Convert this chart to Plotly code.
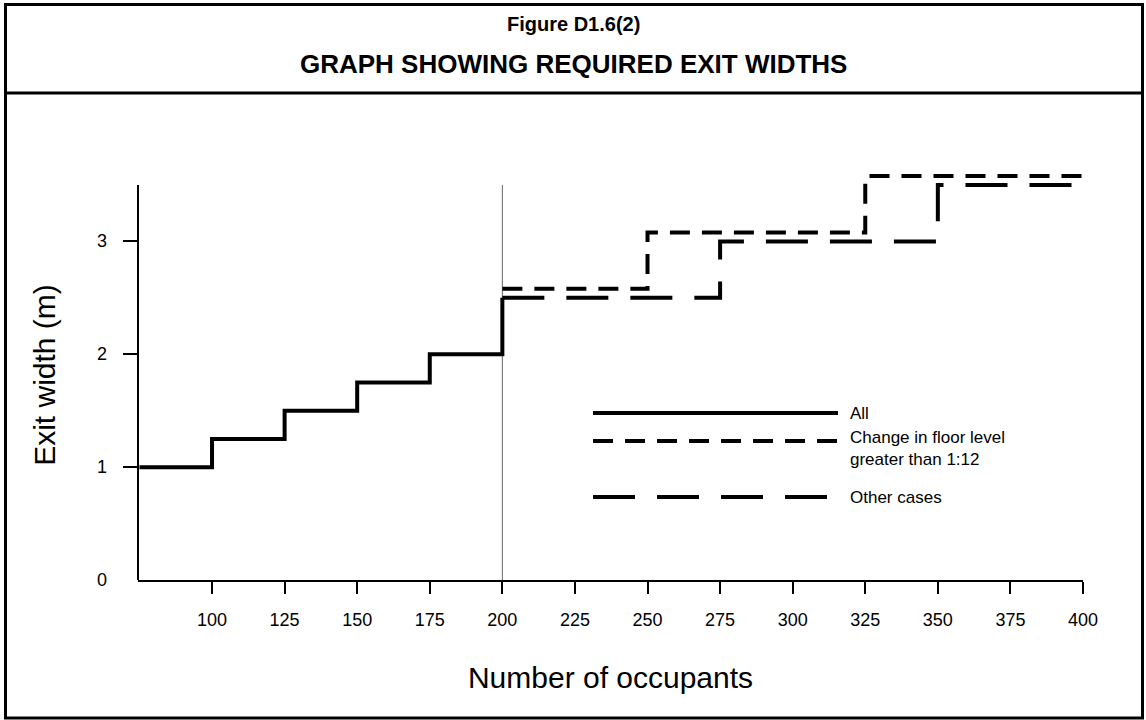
import plotly.graph_objects as go

# Required exit width (m) against number of occupants
all_occupants = [75, 100, 125, 150, 175, 200]
all_widths = [1.0, 1.25, 1.5, 1.75, 2.0, 2.5]

floor_change_occupants = [200, 250, 325, 400]
floor_change_widths = [2.58, 3.08, 3.58, 3.58]

other_occupants = [200, 275, 350, 400]
other_widths = [2.5, 3.0, 3.5, 3.5]

x_ticks = [100, 125, 150, 175, 200, 225, 250, 275, 300, 325, 350, 375, 400]
y_ticks = [1, 2, 3]
y_labels = [0, 1, 2, 3]
y_axis_top = 3.5

series_names = ["All", "Change in floor level<br>greater than 1:12", "Other cases"]

W, H = 1146, 720
ML, MR, MT, MB = 138, 63, 170, 140
PW, PH = W - ML - MR, H - MT - MB
X_RANGE = [74.5, 400]
Y_RANGE = [0, PH * y_axis_top / 395]


def px_x(p):
    return (p - ML) / PW


def px_y(p):
    return (H - MB - p) / PH


FONT = "Liberation Sans, Arial, sans-serif"
SHORT_DASH = "20px,12px"
LONG_DASH = "42px,22px"

fig = go.Figure()

fig.add_trace(go.Scatter(x=all_occupants, y=all_widths, mode="lines",
                         line=dict(color="black", width=4, shape="hv"),
                         showlegend=False))
fig.add_trace(go.Scatter(x=floor_change_occupants, y=floor_change_widths, mode="lines",
                         line=dict(color="black", width=4, shape="hv", dash=SHORT_DASH),
                         showlegend=False))
fig.add_trace(go.Scatter(x=other_occupants, y=other_widths, mode="lines",
                         line=dict(color="black", width=4, shape="hv", dash=LONG_DASH),
                         showlegend=False))

shapes = []
# y axis spine up to 3.5 m
shapes.append(dict(type="line", xref="paper", yref="y", x0=0, x1=0, y0=0, y1=y_axis_top,
                   line=dict(color="black", width=2)))
# thin divider at 200 occupants
shapes.append(dict(type="line", xref="x", yref="y", x0=200, x1=200, y0=0, y1=y_axis_top,
                   line=dict(color="#666666", width=1), layer="below"))
# outer frame and heading separator
shapes.append(dict(type="rect", xref="paper", yref="paper",
                   x0=px_x(5.5), x1=px_x(1142.5), y0=px_y(718), y1=px_y(4.5),
                   line=dict(color="black", width=3)))
shapes.append(dict(type="line", xref="paper", yref="paper",
                   x0=px_x(5.5), x1=px_x(1142.5), y0=px_y(93), y1=px_y(93),
                   line=dict(color="black", width=3)))

# key samples
key_y = [413, 441, 497]
key_dash = ["solid", SHORT_DASH, LONG_DASH]
for yy, dd in zip(key_y, key_dash):
    shapes.append(dict(type="line", xref="paper", yref="paper",
                       x0=px_x(593), x1=px_x(838), y0=px_y(yy), y1=px_y(yy),
                       line=dict(color="black", width=4, dash=dd)))

annotations = []
key_text_y = [413, 448, 497]
for name, yy in zip(series_names, key_text_y):
    annotations.append(dict(text=name, xref="paper", yref="paper", x=px_x(848), y=px_y(yy),
                            xanchor="left", yanchor="middle", align="left", showarrow=False,
                            font=dict(family=FONT, size=17, color="black")))

annotations.append(dict(text="<b>Figure D1.6(2)</b>", xref="paper", yref="paper",
                        x=px_x(573), y=px_y(24), xanchor="center", yanchor="middle",
                        showarrow=False, font=dict(family=FONT, size=20, color="black")))
annotations.append(dict(text="<b>GRAPH SHOWING REQUIRED EXIT WIDTHS</b>", xref="paper", yref="paper",
                        x=px_x(573), y=px_y(64), xanchor="center", yanchor="middle",
                        showarrow=False, font=dict(family=FONT, size=26, color="black")))
# y tick labels, set back from the tick marks
for v in y_labels:
    annotations.append(dict(text=str(v), xref="paper", yref="y", x=px_x(109), y=v,
                            xanchor="right", yanchor="middle", showarrow=False,
                            font=dict(family=FONT, size=18, color="black")))

fig.update_layout(
    width=W, height=H,
    margin=dict(l=ML, r=MR, t=MT, b=MB),
    paper_bgcolor="white", plot_bgcolor="white",
    shapes=shapes, annotations=annotations,
    font=dict(family=FONT, color="black"),
    xaxis=dict(range=X_RANGE, tickvals=x_ticks, ticks="outside", ticklen=12, tickwidth=2,
               tickcolor="black", showline=True, linecolor="black", linewidth=2,
               showgrid=False, zeroline=False, ticklabelstandoff=10,
               tickfont=dict(family=FONT, size=18, color="black"),
               title=dict(text="Number of occupants", standoff=38,
                          font=dict(family=FONT, size=30, color="black"))),
    yaxis=dict(range=Y_RANGE, tickvals=y_ticks, ticks="outside", ticklen=14, tickwidth=2,
               tickcolor="black", showline=False, showticklabels=False,
               showgrid=False, zeroline=False,
               title=dict(text="Exit width (m)", standoff=58,
                          font=dict(family=FONT, size=30, color="black"))),
)

fig.write_html("out.html")
